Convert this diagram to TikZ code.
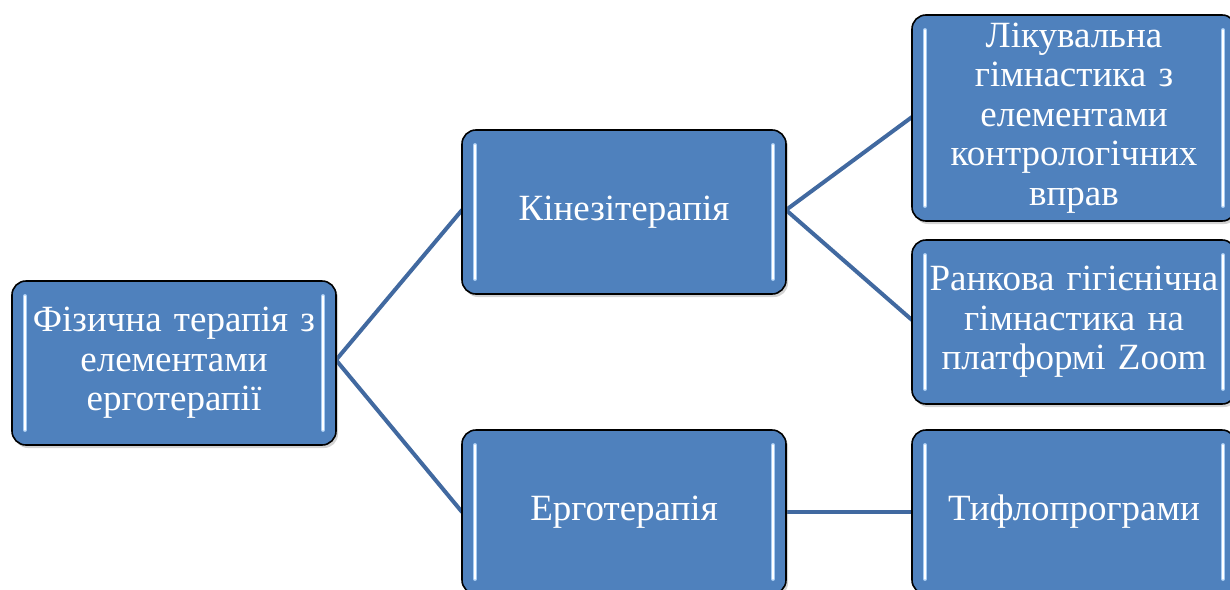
\documentclass[tikz,border=0pt]{standalone}
\usepackage{fontspec}
\setmainfont{Liberation Serif}
\usetikzlibrary{shadows}
\definecolor{boxblue}{HTML}{4F81BD}
\definecolor{linkblue}{HTML}{4169A0}
\definecolor{glintblue}{HTML}{A8CCF2}
\begin{document}
\begin{tikzpicture}[x=1pt, y=-1pt,
    glint/.style = {line width=4pt, glintblue, line cap=round,
      postaction={draw=white, line width=1.4pt}},
    box/.style = {draw=black, line width=1.6pt, fill=boxblue, rounded corners=14pt,
      minimum width=324pt, minimum height=164pt, inner sep=0pt,
      text width=316pt, align=center, text=white,
      font=\fontsize{37}{39.5}\selectfont,
      drop shadow={opacity=0.35, shadow xshift=2pt, shadow yshift=-3pt},
      path picture={
        \draw[glint] ([xshift=13pt,yshift=-15pt]path picture bounding box.north west)
          -- ([xshift=13pt,yshift=15pt]path picture bounding box.south west);
        \draw[glint] ([xshift=-13pt,yshift=-15pt]path picture bounding box.north east)
          -- ([xshift=-13pt,yshift=15pt]path picture bounding box.south east);
      }},
    link/.style = {draw=linkblue, line width=4pt}]

  \useasboundingbox (0,0) rectangle (1230,589);
  \clip (0,0) rectangle (1230,589);

  % links
  \coordinate (rootR) at (336,360);
  \coordinate (kinL) at (462,210);
  \coordinate (kinR) at (786,210);
  \coordinate (ergL) at (462,512);
  \coordinate (ergR) at (786,512);
  \coordinate (likL) at (912,117);
  \coordinate (ranL) at (912,320);
  \coordinate (tyfL) at (912,512);
  \draw[link] (rootR) -- (kinL);
  \draw[link] (rootR) -- (ergL);
  \draw[link] (kinR) -- (likL);
  \draw[link] (kinR) -- (ranL);
  \draw[link] (ergR) -- (tyfL);

  % boxes
  \node[box] (root) at (174,363) {Фізична терапія з\\елементами\\ерготерапії};
  \node[box] (kin) at (624,212) {Кінезітерапія};
  \node[box] (erg) at (624,512) {Ерготерапія};
  \node[box, minimum height=206pt] (lik) at (1074,118) {Лікувальна\\гімнастика з\\елементами\\контрологічних\\вправ};
  \node[box] (ran) at (1074,322) {Ранкова гігієнічна\\гімнастика на\\платформі Zoom};
  \node[box] (tyf) at (1074,512) {Тифлопрограми};

\end{tikzpicture}
\end{document}
